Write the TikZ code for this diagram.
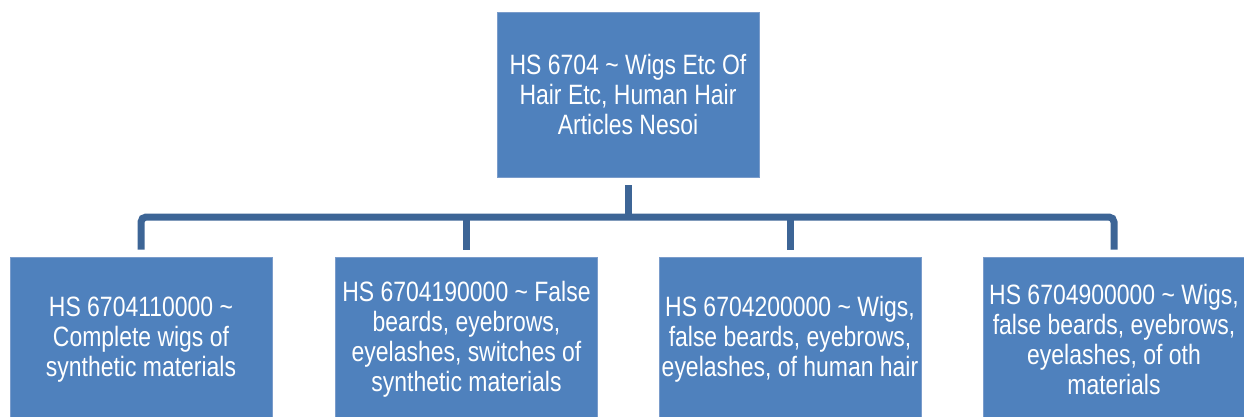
\documentclass[tikz,border=0pt]{standalone}
\usepackage{fontspec}
\setmainfont{Liberation Sans}[FakeStretch=0.82]
\usepackage{tikz}
\usetikzlibrary{positioning,calc}

\definecolor{boxblue}{HTML}{4F81BD}
\definecolor{boxedge}{HTML}{7A9CCB}
\definecolor{linkblue}{HTML}{3D6596}

\begin{document}
\begin{tikzpicture}[x=1pt, y=-1pt,
			catbox/.style={rectangle, fill=boxblue, draw=boxedge, line width=0.8pt,
				minimum width=262pt, minimum height=165pt, inner sep=0,
				text=white, align=center, font=\fontsize{28}{30}\selectfont},
			link/.style={draw=linkblue, line width=7pt, rounded corners=5pt}]
			
			\clip (0,0) rectangle (1244,416);
			
			\node[catbox] (top) at (628,94.5) {HS 6704 \textasciitilde{} Wigs Etc Of\\Hair Etc, Human Hair\\Articles Nesoi};
			
			\node[catbox] (c1) at (141,339.5) {HS 6704110000 \textasciitilde\\Complete wigs of\\synthetic materials};
			\node[catbox] (c2) at (466.5,339.5) {HS 6704190000 \textasciitilde{} False\\beards, eyebrows,\\eyelashes, switches of\\synthetic materials};
			\node[catbox] (c3) at (790,339.5) {HS 6704200000 \textasciitilde{} Wigs,\\false beards, eyebrows,\\eyelashes, of human hair};
			\node[catbox] (c4) at (1114,339.5) {HS 6704900000 \textasciitilde{} Wigs,\\false beards, eyebrows,\\eyelashes, of oth\\materials};
			
			\coordinate (bus) at (628,217);
			\draw[link, shorten <=8pt] (top.south) -- (top.south |- bus);
			\draw[link, shorten <=7pt, shorten >=7pt] (c1.north) |- (bus) -| (c4.north);
			\foreach \c in {c2,c3}
				\draw[link, shorten >=7pt] (\c.north |- bus) -- (\c.north);
		\end{tikzpicture}
\end{document}
